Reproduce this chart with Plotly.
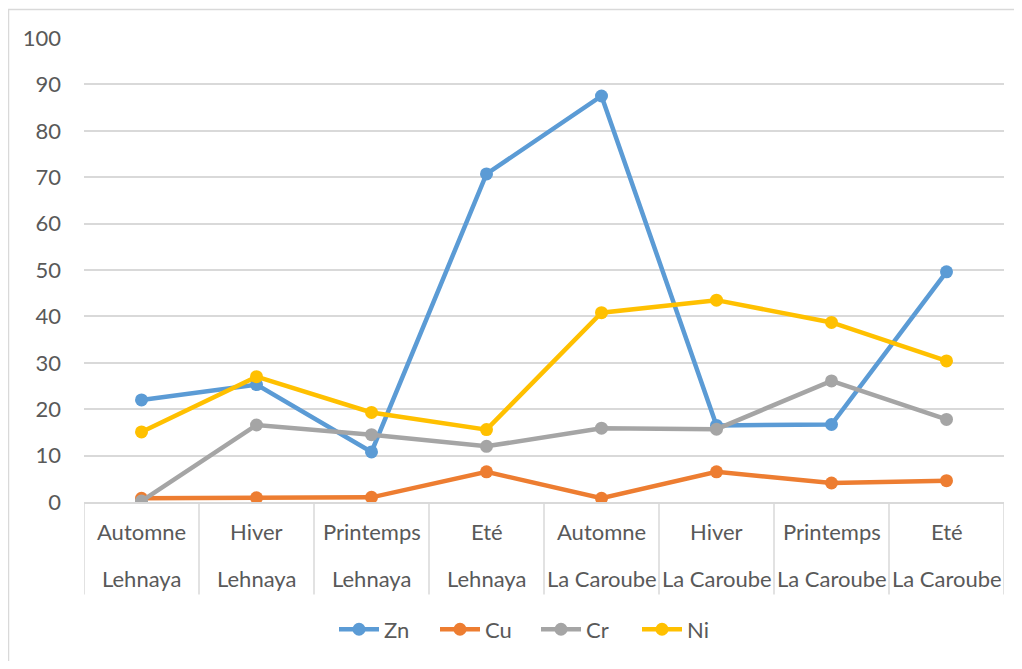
import plotly.graph_objects as go

seasons = ["Automne", "Hiver", "Printemps", "Eté", "Automne", "Hiver", "Printemps", "Eté"]
sites = ["Lehnaya", "Lehnaya", "Lehnaya", "Lehnaya", "La Caroube", "La Caroube", "La Caroube", "La Caroube"]

zn = [22.0, 25.3, 10.8, 70.7, 87.5, 16.5, 16.7, 49.6]
cu = [0.8, 0.9, 1.0, 6.5, 0.8, 6.5, 4.1, 4.6]
cr = [0.2, 16.6, 14.5, 12.0, 15.9, 15.7, 26.1, 17.8]
ni = [15.1, 27.0, 19.3, 15.6, 40.8, 43.5, 38.7, 30.4]

series = [("Zn", zn, "#5B9BD5"), ("Cu", cu, "#ED7D31"), ("Cr", cr, "#A5A5A5"), ("Ni", ni, "#FFC000")]

FONT = "Lato, 'Open Sans', sans-serif"
TXT = "#595959"
GRID = "#D9D9D9"
FS = 22

# page body has an 8px margin; target pixel positions below are page pixels
OFF = 8
W, H = 1006, 653
PL, PR, PT, PB = 84, 1004, 38, 504  # plot area in page pixels
ML = PL - OFF
MT = PT - OFF
MR = (W + OFF) - PR
MB = (H + OFF) - PB
PW = PR - PL
PH = PB - PT


def py(p):  # page pixel y -> paper y
    return (PB - p) / PH


def px(p):  # page pixel x -> paper x
    return (p - PL) / PW


xs = list(range(len(seasons)))
fig = go.Figure()
for name, vals, col in series:
    fig.add_trace(go.Scatter(
        x=xs, y=vals, name=name, mode="lines+markers",
        line=dict(color=col, width=4.5),
        marker=dict(color=col, size=13),
    ))

ann = []
for i, (s, site) in enumerate(zip(seasons, sites)):
    ann.append(dict(x=i, y=py(534), xref="x", yref="paper", text=s, showarrow=False,
                    font=dict(family=FONT, size=FS, color=TXT), xanchor="center", yanchor="middle"))
    ann.append(dict(x=i, y=py(581), xref="x", yref="paper", text=site, showarrow=False,
                    font=dict(family=FONT, size=FS, color=TXT), xanchor="center", yanchor="middle"))

shapes = []
for i in range(len(seasons) + 1):
    shapes.append(dict(type="line", xref="x", yref="paper", x0=i - 0.5, x1=i - 0.5,
                       y0=0, y1=py(597), line=dict(color=GRID, width=1.5)))
# outer chart border (left and top visible)
shapes.append(dict(type="line", xref="paper", yref="paper",
                   x0=px(8.5), x1=px(8.5), y0=py(9), y1=py(680),
                   line=dict(color=GRID, width=1.5)))
shapes.append(dict(type="line", xref="paper", yref="paper",
                   x0=px(8), x1=px(1030), y0=py(9.5), y1=py(9.5),
                   line=dict(color=GRID, width=1.5)))

fig.update_layout(
    width=W, height=H,
    margin=dict(l=ML, r=MR, t=MT, b=MB),
    paper_bgcolor="white", plot_bgcolor="white",
    font=dict(family=FONT, size=FS, color=TXT),
    xaxis=dict(range=[-0.5, len(seasons) - 0.5], showticklabels=False, showgrid=False,
               zeroline=False, showline=True, linecolor=GRID, linewidth=1.5, ticks=""),
    yaxis=dict(range=[0, 100], dtick=10, showgrid=True, gridcolor=GRID, gridwidth=1.5,
               zeroline=False, showline=False, ticks="", ticklabelstandoff=22,
               tickfont=dict(family=FONT, size=FS, color=TXT)),
    legend=dict(orientation="h", x=px(536), xanchor="center", y=py(632),
                yanchor="middle", font=dict(family=FONT, size=FS, color=TXT), itemwidth=40,
                entrywidth=46, entrywidthmode="pixels", traceorder="normal"),
    annotations=ann, shapes=shapes, showlegend=True,
)

fig.write_html("out.html")
